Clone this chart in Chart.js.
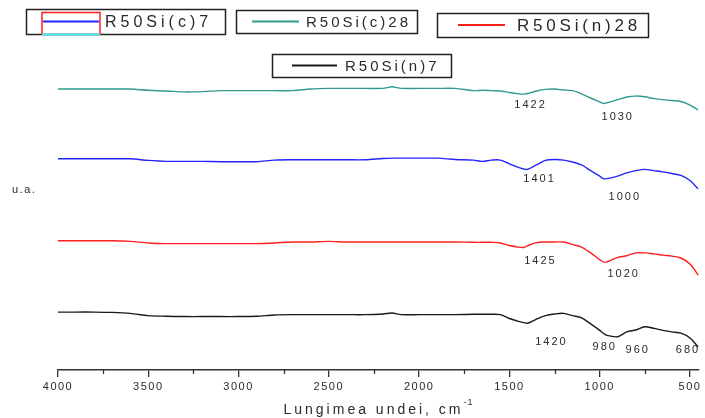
<!DOCTYPE html>
<html>
<head>
<meta charset="utf-8">
<script src="https://cdn.jsdelivr.net/npm/chart.js@4.4.1/dist/chart.umd.min.js"></script>
<style>
  html, body { margin: 0; padding: 0; background: #fff; }
  #wrap { width: 705px; height: 418px; }
</style>
</head>
<body>
<div id="wrap"><canvas id="ftirChart" width="705" height="418"></canvas></div>
<script>
// wavenumber grid (cm-1), shared by all spectra
const wavenumbers = [4000, 3900, 3800, 3700, 3600, 3500, 3400, 3300, 3200, 3100, 3000, 2900, 2800, 2700,
  2600, 2500, 2400, 2300, 2200, 2150, 2100, 2000, 1900, 1800, 1700, 1650, 1600, 1550, 1500, 1450,
  1420, 1400, 1350, 1300, 1250, 1200, 1150, 1100, 1050, 1000, 980, 960, 900, 850, 800, 750, 700,
  650, 600, 550, 500, 455];

const seriesLabels = ['R50Si(c)7', 'R50Si(c)28', 'R50Si(n)28', 'R50Si(n)7'];

// intensities, u.a. (offset spectra)
const siC7 = [66.0, 66.0, 66.0, 66.0, 66.0, 65.5, 65.2, 65.2, 65.2, 65.1, 65.1, 65.1, 65.6, 65.7,
  65.7, 65.7, 65.7, 65.7, 66.1, 66.2, 66.2, 66.2, 66.2, 65.8, 65.6, 65.2, 65.6, 65.6, 64.4, 63.3,
  62.8, 62.7, 64.1, 65.5, 65.8, 65.6, 65.0, 64.1, 62.3, 60.6, 59.8, 59.8, 60.6, 61.6, 62.3, 62.7, 62.3,
  61.9, 61.4, 60.8, 59.2, 56.6];
const siC28 = [87.8, 87.8, 87.8, 87.8, 87.8, 87.4, 87.2, 86.9, 87.0, 87.3, 87.3, 87.3, 87.3, 87.3,
  87.8, 88.0, 88.0, 88.0, 88.0, 88.5, 88.0, 88.0, 88.0, 88.0, 87.3, 87.4, 87.3, 87.2, 86.7, 86.3,
  86.2, 86.4, 87.2, 87.7, 87.8, 87.5, 87.3, 86.3, 85.0, 83.8, 83.3, 83.5, 84.5, 85.3, 85.6, 85.4, 84.8,
  84.5, 84.2, 83.9, 82.8, 81.3];
const siN28 = [40.4, 40.4, 40.4, 40.4, 40.2, 39.7, 39.5, 39.5, 39.5, 39.5, 39.5, 39.5, 39.7, 40.0,
  40.0, 40.2, 40.0, 40.0, 40.0, 40.0, 40.0, 40.0, 40.0, 40.0, 39.9, 39.9, 39.9, 39.7, 38.9, 38.4,
  38.3, 38.8, 39.8, 40.0, 40.0, 40.0, 39.2, 38.4, 36.6, 34.5, 33.8, 33.8, 35.2, 35.7, 36.6, 36.6, 36.3,
  35.9, 35.6, 35.0, 33.1, 29.7];
const siN7 = [18.1, 18.1, 18.1, 18.0, 17.7, 17.0, 16.8, 16.7, 16.7, 16.7, 16.7, 16.8, 17.2, 17.3,
  17.3, 17.3, 17.3, 17.3, 17.5, 17.8, 17.3, 17.3, 17.3, 17.3, 17.4, 17.4, 17.4, 17.3, 16.1, 15.2,
  14.8, 14.6, 15.9, 17.0, 17.5, 17.7, 17.0, 16.3, 14.4, 12.4, 11.5, 10.8, 10.4, 11.9, 12.5, 13.5, 13.0,
  12.4, 11.9, 11.5, 10.0, 7.2];

const tickLabels = [4000, 3500, 3000, 2500, 2000, 1500, 1000, 500];
const minorTicks = [3750, 3250, 2750, 2250, 1750, 1250, 750];

// peak annotations: text, and where it sits (wavenumber, u.a.)
const peakTexts = ['1422', '1030', '1401', '1000', '1425', '1020', '1420', '980', '960', '680'];
const peakX = [1383, 900, 1333, 861, 1328, 867, 1267, 972, 789, 511];
const peakY = [82.8, 79.1, 59.7, 54.1, 34.1, 30.0, 8.8, 7.2, 6.3, 6.3];

const colors = ['#2424ff', '#33998f', '#ff1f1f', '#1a1a1a'];

const toPoints = (ys) => ys.map((y, i) => ({ x: wavenumbers[i], y: y }));

// legend boxes are laid out by hand like the original figure
const legendBoxes = [
  { ds: 0, x: 26, y: 9, w: 199, h: 25, lx: 43, lw: 56, tx: 105, size: 16, sp: 4 },
  { ds: 1, x: 236, y: 10, w: 181, h: 23, lx: 252, lw: 47, tx: 306, size: 15, sp: 3 },
  { ds: 2, x: 437, y: 13, w: 211, h: 24, lx: 458, lw: 47, tx: 517, size: 17, sp: 3.8 },
  { ds: 3, x: 272, y: 54, w: 179, h: 23, lx: 292, lw: 45, tx: 345, size: 15, sp: 3 }
];

const extras = {
  id: 'extras',
  beforeDraw(chart) {
    chart.ctx.letterSpacing = '1.5px';
  },
  afterDraw(chart) {
    const ctx = chart.ctx;
    const xs = chart.scales.x, ys = chart.scales.y;
    const area = chart.chartArea;
    ctx.save();

    // minor ticks
    ctx.strokeStyle = '#333';
    ctx.lineWidth = 1.3;
    minorTicks.forEach(v => {
      const px = Math.round(xs.getPixelForValue(v)) + 0.5;
      ctx.beginPath();
      ctx.moveTo(px, area.bottom);
      ctx.lineTo(px, area.bottom + 4);
      ctx.stroke();
    });

    // peak labels
    ctx.fillStyle = '#2a2a2a';
    ctx.font = '11px "Liberation Sans", Arial, sans-serif';
    ctx.letterSpacing = '2px';
    ctx.textAlign = 'center';
    ctx.textBaseline = 'middle';
    peakTexts.forEach((t, i) => {
      ctx.fillText(t, xs.getPixelForValue(peakX[i]), ys.getPixelForValue(peakY[i]));
    });

    // y label
    ctx.font = '11px "Liberation Sans", Arial, sans-serif';
    ctx.letterSpacing = '1.5px';
    ctx.textAlign = 'left';
    ctx.fillText('u.a.', 12, 190);

    // x title with superscript
    ctx.font = '14px "Liberation Sans", Arial, sans-serif';
    ctx.letterSpacing = '3px';
    const main = 'Lungimea undei, cm';
    const mw = ctx.measureText(main).width;
    ctx.font = '9px "Liberation Sans", Arial, sans-serif';
    ctx.letterSpacing = '1px';
    const sw = ctx.measureText('-1').width;
    const tx = (area.left + area.right) / 2 - (mw + sw) / 2;
    ctx.font = '14px "Liberation Sans", Arial, sans-serif';
    ctx.letterSpacing = '3px';
    ctx.fillText(main, tx, 410);
    ctx.font = '9px "Liberation Sans", Arial, sans-serif';
    ctx.letterSpacing = '1px';
    ctx.fillText('-1', tx + mw, 403);

    // legend boxes
    legendBoxes.forEach(b => {
      const ds = chart.data.datasets[b.ds];
      ctx.letterSpacing = '0px';
      ctx.strokeStyle = '#222';
      ctx.lineWidth = 1.5;
      ctx.strokeRect(b.x + 0.5, b.y + 0.5, b.w, b.h);
      const my = b.y + b.h / 2;
      if (b.ds === 0) {
        ctx.strokeStyle = '#ff2020';
        ctx.lineWidth = 1.5;
        ctx.strokeRect(b.lx - 1, b.y + 3.5, b.lw + 2, b.h - 3);
        ctx.strokeStyle = '#40f0ff';
        ctx.lineWidth = 2;
        ctx.beginPath();
        ctx.moveTo(b.lx - 1, b.y + b.h + 0.5);
        ctx.lineTo(b.lx + b.lw + 1, b.y + b.h + 0.5);
        ctx.stroke();
      }
      ctx.strokeStyle = ds.borderColor;
      ctx.lineWidth = 1.8;
      ctx.beginPath();
      ctx.moveTo(b.lx, my);
      ctx.lineTo(b.lx + b.lw, my);
      ctx.stroke();
      ctx.fillStyle = '#2a2a2a';
      ctx.font = b.size + 'px "Liberation Sans", Arial, sans-serif';
      ctx.letterSpacing = b.sp + 'px';
      ctx.textAlign = 'left';
      ctx.textBaseline = 'middle';
      ctx.fillText(ds.label, b.tx, my + 1);
    });

    ctx.restore();
    ctx.letterSpacing = '0px';
  }
};

const ctx = document.getElementById('ftirChart').getContext('2d');
new Chart(ctx, {
  type: 'line',
  data: {
    datasets: [siC7, siC28, siN28, siN7].map((ys, i) => ({
      label: seriesLabels[i],
      data: toPoints(ys),
      borderColor: colors[i],
      borderWidth: 1.4,
      pointRadius: 0,
      tension: 0.3,
      fill: false
    }))
  },
  options: {
    responsive: false,
    animation: false,
    devicePixelRatio: 1,
    layout: { padding: { left: 58, right: 6, top: 50, bottom: 0 } },
    scales: {
      x: {
        type: 'linear',
        reverse: true,
        min: 450,
        max: 4000,
        afterBuildTicks: (scale) => { scale.ticks = tickLabels.map(v => ({ value: v })); },
        afterFit: (scale) => { scale.height = 48; },
        border: { display: true, color: '#333', width: 1.5 },
        grid: {
          drawOnChartArea: false,
          drawTicks: true,
          tickLength: 7,
          lineWidth: 1.3,
          tickColor: '#333'
        },
        ticks: {
          autoSkip: false,
          maxRotation: 0,
          padding: 3,
          color: '#2a2a2a',
          font: { family: '"Liberation Sans", Arial, sans-serif', size: 11 },
          callback: (v) => String(v)
        }
      },
      y: {
        display: false,
        min: 0,
        max: 100
      }
    },
    plugins: {
      legend: { display: false },
      tooltip: { enabled: false }
    }
  },
  plugins: [extras]
});
</script>
</body>
</html>
